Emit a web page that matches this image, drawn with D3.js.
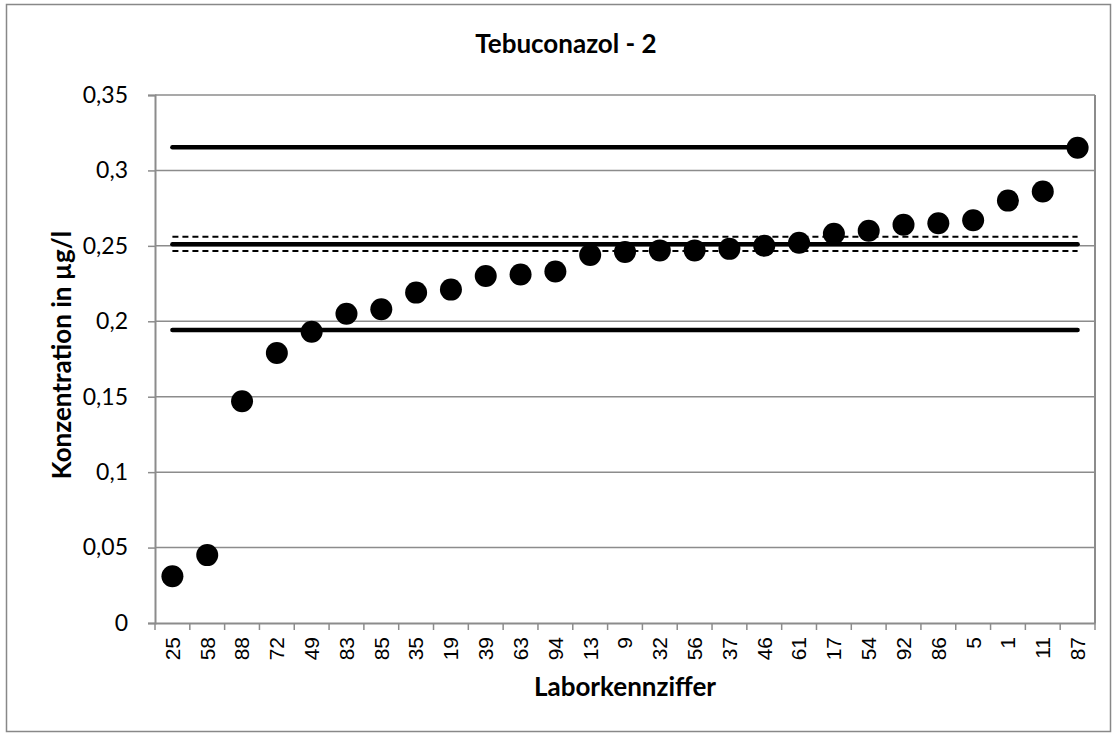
<!DOCTYPE html>
<html><head><meta charset="utf-8">
<script src="https://cdn.jsdelivr.net/npm/d3@7"></script>
<style>body{margin:0;background:#fff}</style>
</head><body>
<svg id="c" width="1116" height="735"></svg>
<script>
const labs = ["25","58","88","72","49","83","85","35","19","39","63","94","13","9","32","56","37","46","61","17","54","92","86","5","1","11","87"];
const values = [0.031,0.045,0.147,0.179,0.193,0.205,0.208,0.219,0.221,0.230,0.231,0.233,0.244,0.246,0.247,0.247,0.248,0.250,0.252,0.258,0.260,0.264,0.265,0.267,0.280,0.286,0.315];
const yTicks = [0,0.05,0.1,0.15,0.2,0.25,0.3,0.35];
const solidLines = [0.3153,0.251,0.1942];
const dashLines = [0.2561,0.2466];
const title = "Tebuconazol - 2";
const xTitle = "Laborkennziffer";
const yTitle = "Konzentration in µg/l";

const svg = d3.select("#c");
const L=155, R=1095, T=95, B=623;
svg.append("rect").attr("x",6.5).attr("y",4.5).attr("width",1104).attr("height",727)
  .attr("fill","#fff").attr("stroke","#888").attr("stroke-width",1.5);

const x = d3.scaleBand().domain(labs).range([L,R]).padding(0);
const y = d3.scaleLinear().domain([0,0.35]).range([B,T]);
const fmt = d => String(d).replace(".",",");

// gridlines
svg.append("g").selectAll("line").data(yTicks.filter(d=>d>0)).join("line")
  .attr("x1",L).attr("x2",R).attr("y1",d=>y(d)).attr("y2",d=>y(d))
  .attr("stroke","#8c8c8c").attr("stroke-width",1.5);
// right border
svg.append("line").attr("x1",R).attr("x2",R).attr("y1",T).attr("y2",B).attr("stroke","#8c8c8c").attr("stroke-width",2);

// y axis
const ya = svg.append("g").attr("transform",`translate(${L},0)`)
  .call(d3.axisLeft(y).tickValues(yTicks).tickFormat(fmt).tickSize(7).tickPadding(20));
ya.select(".domain").attr("stroke","#8c8c8c").attr("stroke-width",2);
ya.selectAll(".tick line").attr("stroke","#8c8c8c").attr("stroke-width",1.5);
ya.selectAll("text").attr("font-family","Lato, 'Open Sans', sans-serif").attr("font-size",23).attr("fill","#000");

// x axis
const xa = svg.append("g").attr("transform",`translate(0,${B})`)
  .call(d3.axisBottom(x).tickSize(0).tickPadding(0));
xa.select(".domain").attr("stroke","#8c8c8c").attr("stroke-width",2);
xa.selectAll("text").attr("font-family","'Liberation Sans', Arial, sans-serif").attr("font-size",21).attr("fill","#000")
  .attr("text-anchor","end").attr("transform","rotate(-90)").attr("x",-14).attr("y",0).attr("dy","0.35em");
svg.append("g").selectAll("line").data(d3.range(labs.length+1)).join("line")
  .attr("x1",i=>L+i*x.step()).attr("x2",i=>L+i*x.step()).attr("y1",B).attr("y2",B+7)
  .attr("stroke","#8c8c8c").attr("stroke-width",1.5);

const x0 = x(labs[0])+x.bandwidth()/2, x1 = x(labs[labs.length-1])+x.bandwidth()/2;
svg.append("g").selectAll("line").data(dashLines).join("line")
  .attr("x1",x0).attr("x2",x1).attr("y1",d=>y(d)).attr("y2",d=>y(d))
  .attr("stroke","#000").attr("stroke-width",2).attr("stroke-dasharray","6,4");
svg.append("g").selectAll("line").data(solidLines).join("line")
  .attr("x1",x0).attr("x2",x1).attr("y1",d=>y(d)).attr("y2",d=>y(d))
  .attr("stroke","#000").attr("stroke-width",4.5).attr("stroke-linecap","round");

svg.append("g").selectAll("circle").data(values).join("circle")
  .attr("cx",(d,i)=>x(labs[i])+x.bandwidth()/2).attr("cy",d=>y(d)).attr("r",11).attr("fill","#000");

svg.append("text").attr("x",566).attr("y",53).attr("text-anchor","middle")
  .attr("font-family","Lato, 'Open Sans', sans-serif").attr("font-weight","bold").attr("font-size",26).text(title);
svg.append("text").attr("x",625).attr("y",696).attr("text-anchor","middle")
  .attr("font-family","Lato, 'Open Sans', sans-serif").attr("font-weight","bold").attr("font-size",26).text(xTitle);
svg.append("text").attr("transform",`translate(71,355) rotate(-90)`).attr("text-anchor","middle")
  .attr("font-family","Lato, 'Open Sans', sans-serif").attr("font-weight","bold").attr("font-size",26).text(yTitle);
</script>
</body></html>
